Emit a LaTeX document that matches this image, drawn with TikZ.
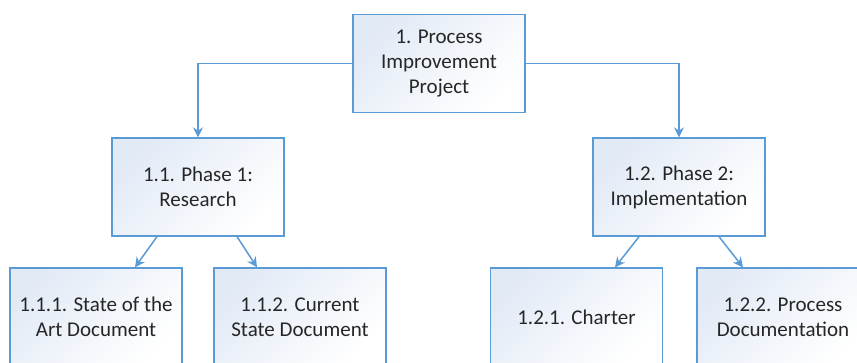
\documentclass[tikz,border=0pt]{standalone}
\usepackage{fontspec}
\setmainfont{Carlito}
\usetikzlibrary{arrows.meta}
\definecolor{edge}{HTML}{5B9BD5}
\definecolor{boxtop}{HTML}{E2EAF6}
\definecolor{ink}{HTML}{262626}
\begin{document}
\begin{tikzpicture}[x=1pt,y=-1pt,
  wbs/.style={draw=edge, line width=1.3pt, top color=boxtop, bottom color=white,
    shading angle=45, minimum width=172pt, minimum height=98pt, align=center,
    font=\fontsize{21}{25}\selectfont, text=ink, inner sep=0pt},
  link/.style={draw=edge, line width=1.5pt, -{Stealth[length=10pt,width=10pt]}}]
\useasboundingbox (0,0) rectangle (857,363);
\clip (0,0) rectangle (857,363);
% work breakdown boxes
\node[wbs] (root) at (439,63.5) {1. Process\\Improvement\\Project};
\node[wbs] (p1) at (198,187) {1.1. Phase 1:\\Research};
\node[wbs] (p2) at (679,187) {1.2. Phase 2:\\Implementation};
\node[wbs] (c111) at (96,317) {1.1.1. State of the\\Art Document};
\node[wbs] (c112) at (300,317) {1.1.2. Current\\State Document};
\node[wbs] (c121) at (576.5,317) {1.2.1. Charter};
\node[wbs] (c122) at (783,317) {1.2.2. Process\\Documentation};
% connectors
\draw[link] (root.west) -| (p1.north);
\draw[link] (root.east) -| (p2.north);
\draw[link] ([xshift=-41pt]p1.south) -- ([xshift=39pt]c111.north);
\draw[link] ([xshift=39pt]p1.south) -- ([xshift=-43pt]c112.north);
\draw[link] ([xshift=-40pt]p2.south) -- ([xshift=38.5pt]c121.north);
\draw[link] ([xshift=40pt]p2.south) -- ([xshift=-40pt]c122.north);
\end{tikzpicture}
\end{document}
